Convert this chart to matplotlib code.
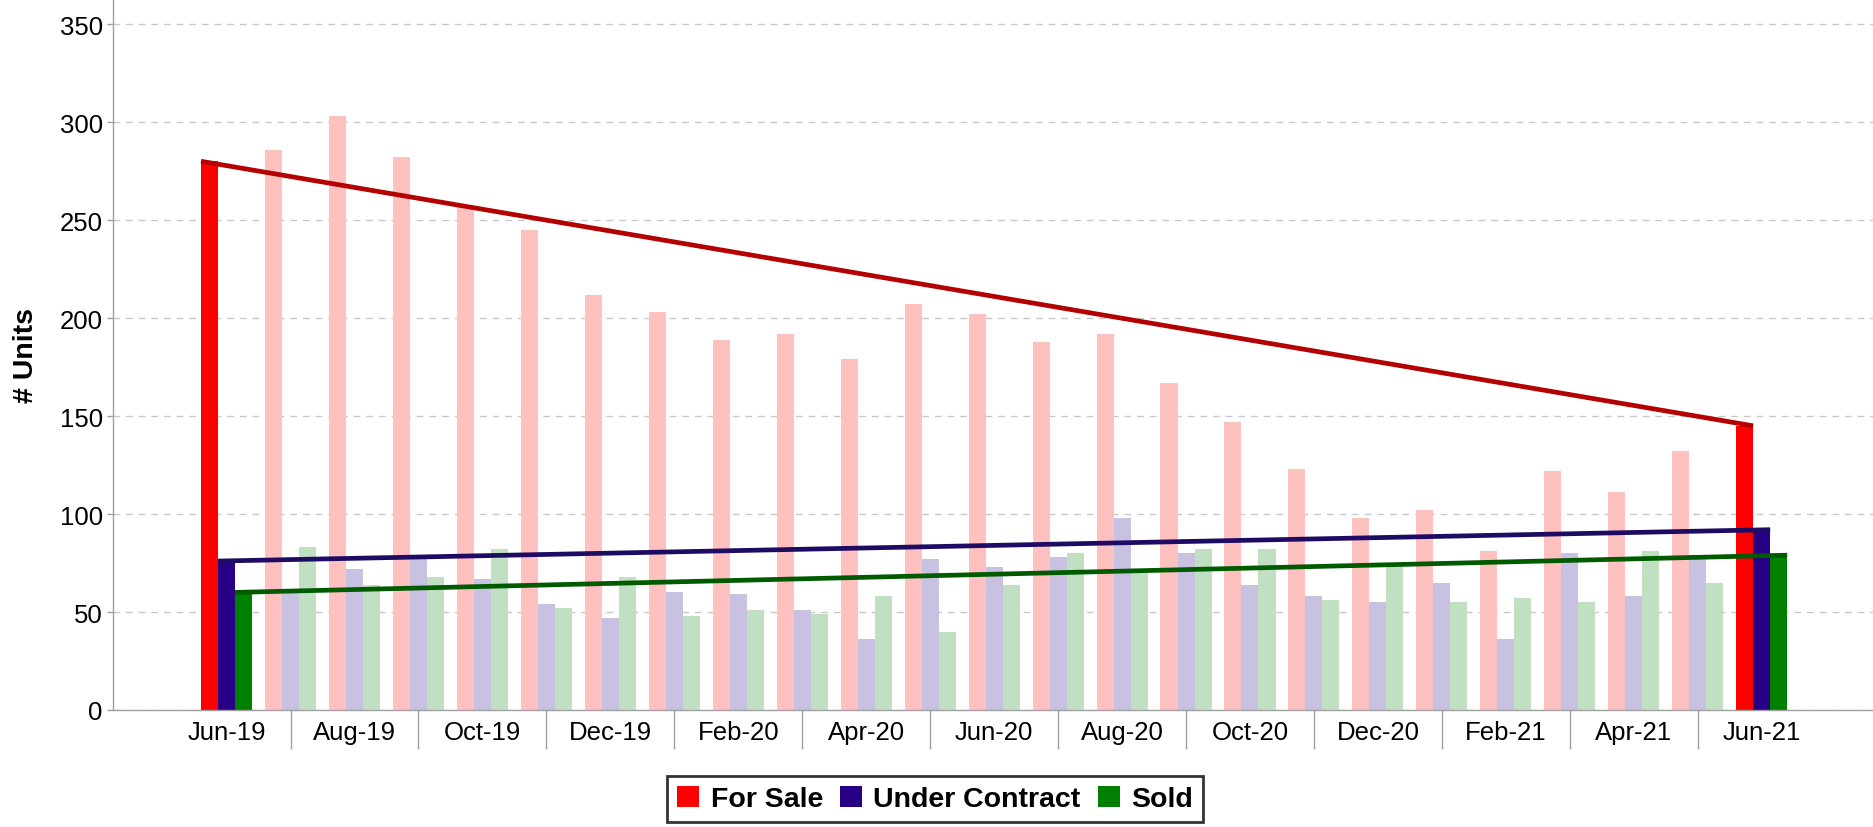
import matplotlib
matplotlib.use("Agg")
import matplotlib.pyplot as plt
from matplotlib.patches import Patch
import numpy as np

plt.rcParams['font.family'] = ['Liberation Sans', 'DejaVu Sans']

months = ['Jun-19', 'Jul-19', 'Aug-19', 'Sep-19', 'Oct-19', 'Nov-19', 'Dec-19',
          'Jan-20', 'Feb-20', 'Mar-20', 'Apr-20', 'May-20', 'Jun-20', 'Jul-20',
          'Aug-20', 'Sep-20', 'Oct-20', 'Nov-20', 'Dec-20', 'Jan-21', 'Feb-21',
          'Mar-21', 'Apr-21', 'May-21', 'Jun-21']
for_sale = [280, 286, 303, 282, 257, 245, 212, 203, 189, 192, 179, 207, 202,
            188, 192, 167, 147, 123, 98, 102, 81, 122, 111, 132, 145]
under_contract = [76, 60, 72, 77, 67, 54, 47, 60, 59, 51, 36, 77, 73,
                  78, 98, 80, 64, 58, 55, 65, 36, 80, 58, 79, 92]
sold = [60, 83, 64, 68, 82, 52, 68, 48, 51, 49, 58, 40, 64,
        80, 71, 82, 82, 56, 74, 55, 57, 55, 81, 65, 79]

series = [
    ('For Sale', for_sale, '#FF0000', '#FFC0C0', '#B40000'),
    ('Under Contract', under_contract, '#270085', '#C9C1E1', '#1E0B63'),
    ('Sold', sold, '#008000', '#C1E0C1', '#005A00'),
]

W, H = 1873, 828
fig = plt.figure(figsize=(W / 100, H / 100), dpi=100)
ax = fig.add_axes([113 / W, 117 / H, 1 - 113 / W, 711 / H])

x = np.arange(len(months))
w = 0.266
n = len(months)

for k, (name, vals, full, light, trend) in enumerate(series):
    off = (k - 1) * w
    cols = [full if (i == 0 or i == n - 1) else light for i in range(n)]
    ax.bar(x + off, vals, width=w, color=cols, linewidth=0, zorder=2)

# trend lines from first to last value
for k, (name, vals, full, light, trend) in enumerate(series):
    off = (k - 1) * w
    ax.plot([x[0] + off - w / 2, x[-1] + off + w / 2], [vals[0], vals[-1]],
            color=trend, lw=3.4, solid_capstyle='butt', zorder=3)

ax.set_xlim(-1.775, 25.74)
ax.set_ylim(0, 362.8)
ax.set_yticks(np.arange(0, 351, 50))

ax.set_xticks(x[::2])
ax.set_xticklabels(months[::2])
ax.set_xticks(x[1::2], minor=True)
ax.tick_params(axis='x', which='major', length=0, pad=7, labelsize=18.5)
ax.tick_params(axis='x', which='minor', length=28, width=1, color='#A0A0A0')
ax.tick_params(axis='y', length=4.3, width=1, color='#A0A0A0', pad=3,
               labelsize=18.5)

ax.yaxis.grid(True, linestyle=(0, (4.8, 4.3)), color='#C8C8C8', lw=1)
ax.set_axisbelow(True)

for s in ['top', 'right']:
    ax.spines[s].set_visible(False)
for s in ['left', 'bottom']:
    ax.spines[s].set_color('#A0A0A0')
    ax.spines[s].set_linewidth(1)

ax.set_ylabel('# Units', fontsize=20.5, fontweight='bold')
ax.yaxis.set_label_coords(-0.042, 0.5)

handles = [Patch(facecolor=s[2], edgecolor='none', label=s[0]) for s in series]
leg = fig.legend(handles=handles, loc='center', bbox_to_anchor=(935 / W, 1 - 800 / H),
                 ncol=3, frameon=True, fancybox=False, edgecolor='black',
                 prop={'weight': 'bold', 'size': 20.5},
                 handlelength=0.77, handleheight=0.77, handletextpad=0.4,
                 columnspacing=0.6, borderpad=0.35, borderaxespad=0)
leg.get_frame().set_linewidth(2)

fig.savefig('out.png', dpi=100)
